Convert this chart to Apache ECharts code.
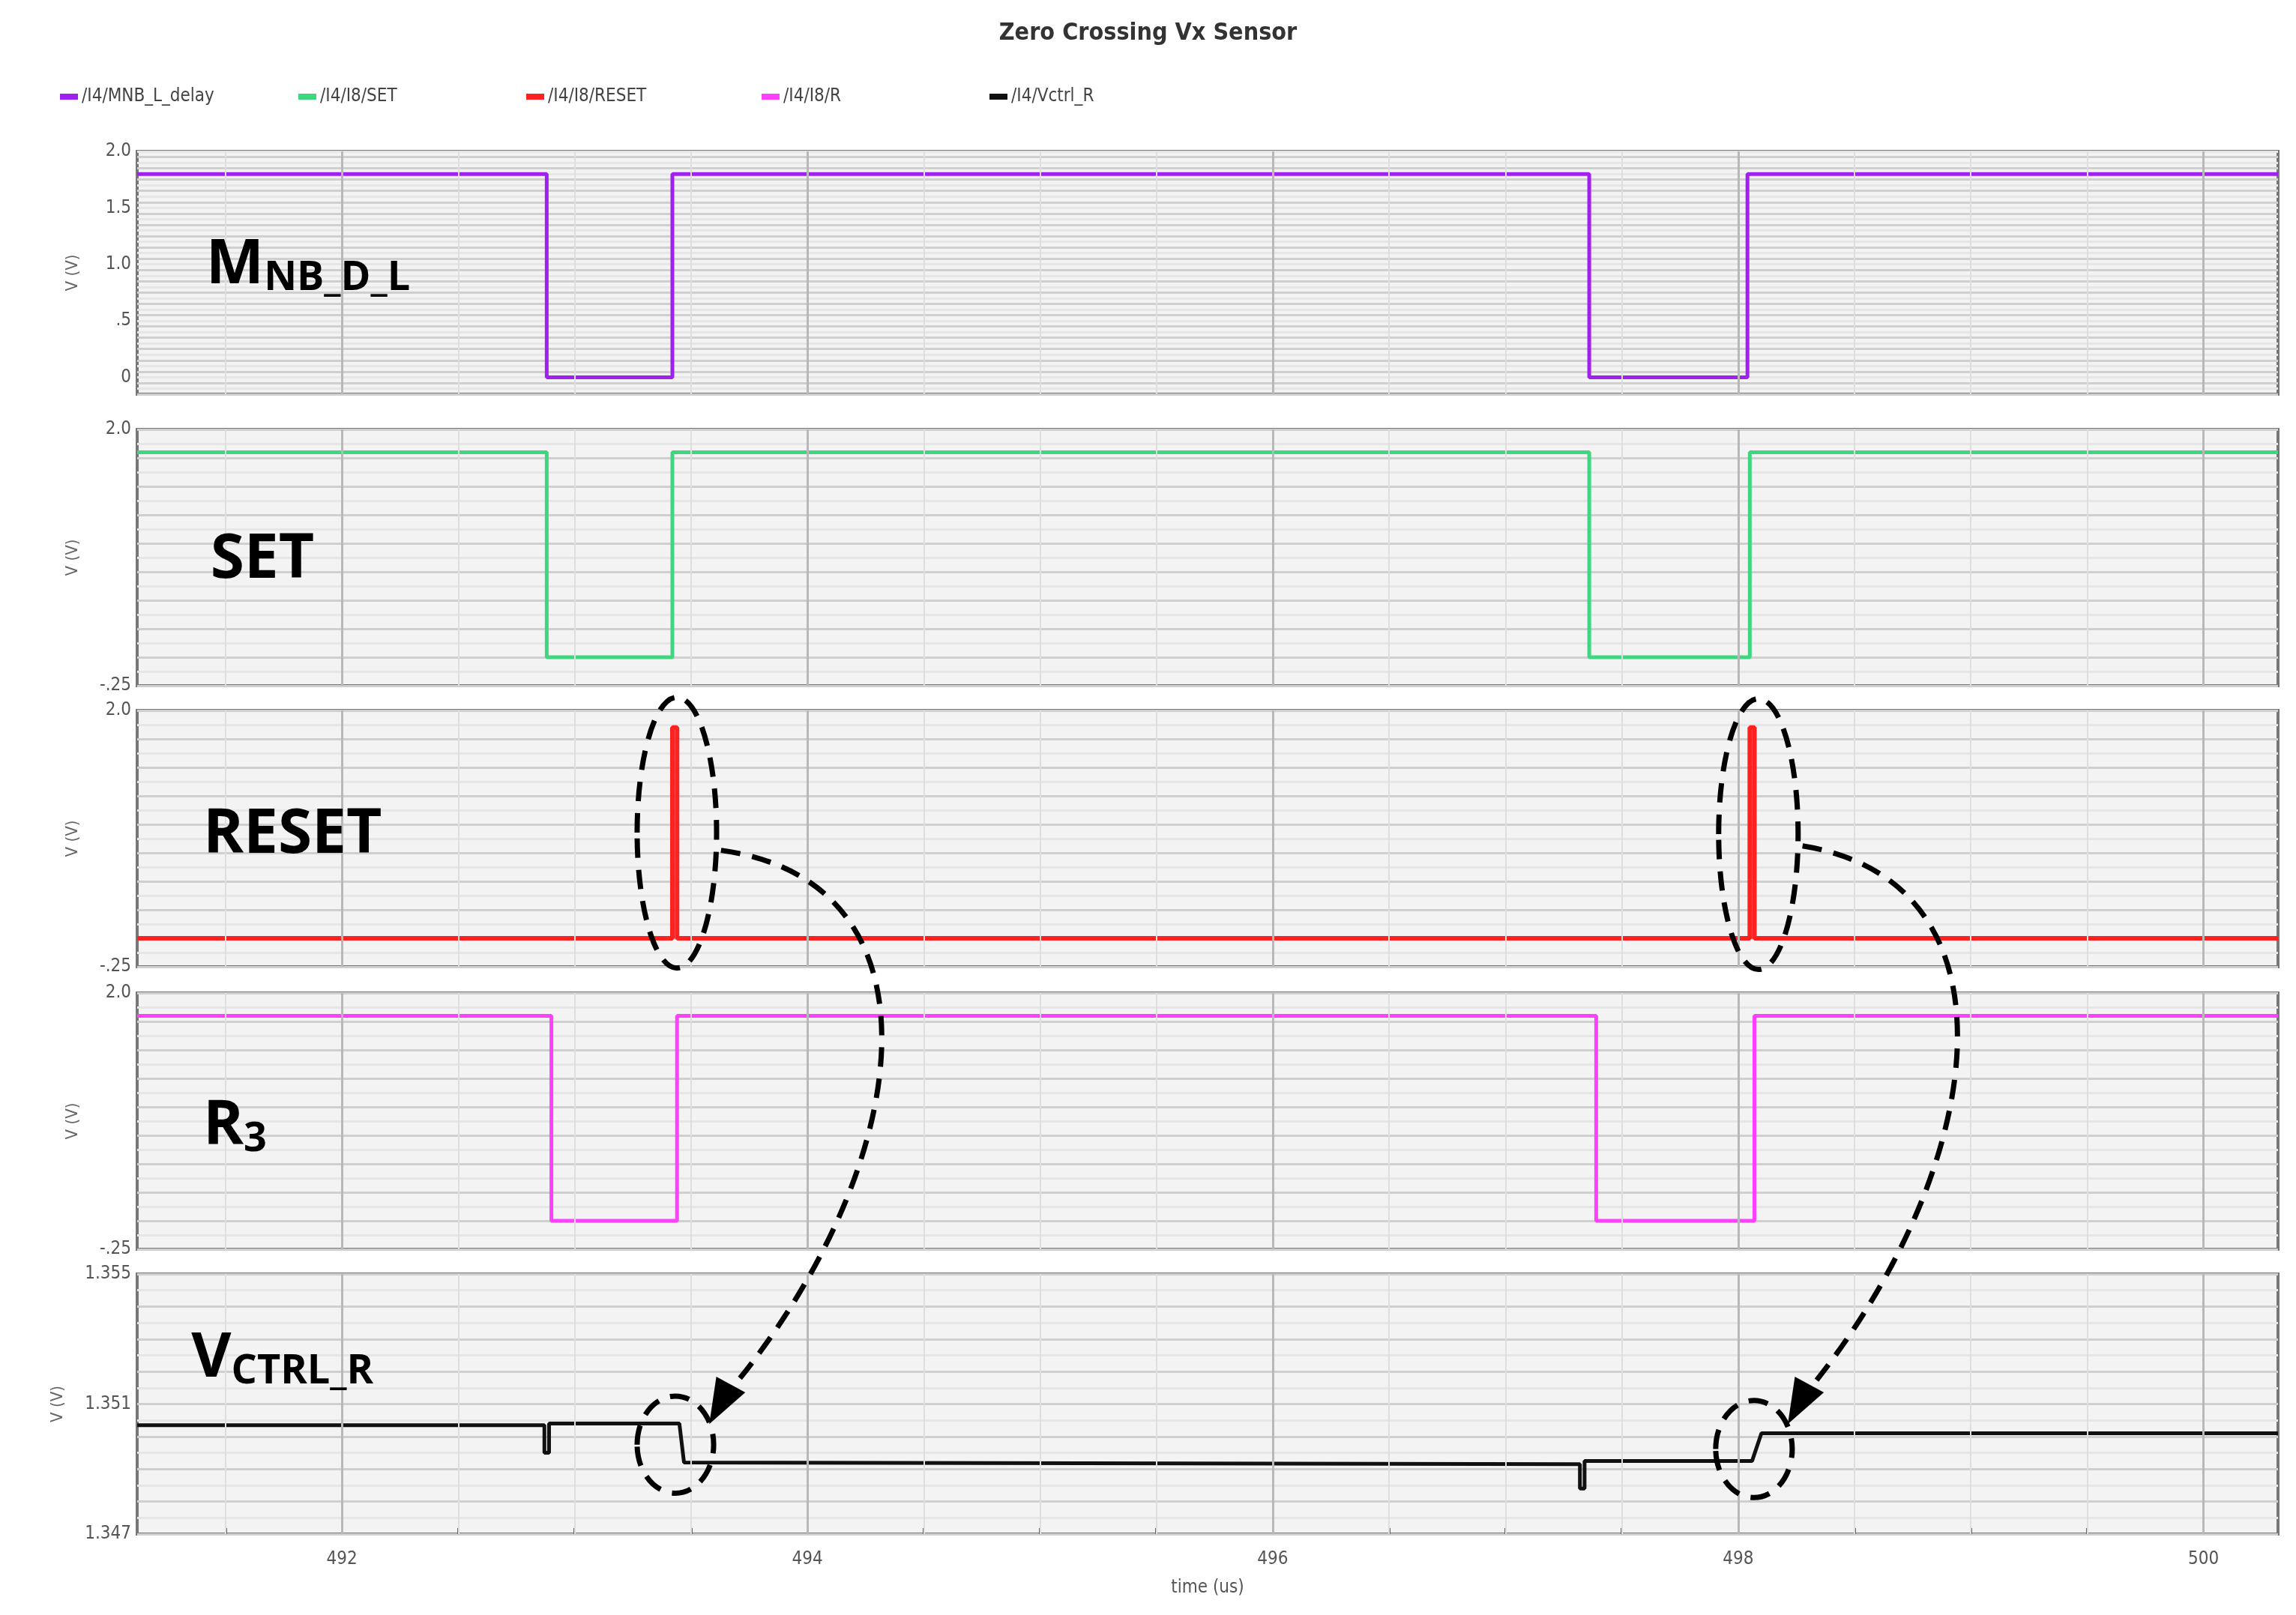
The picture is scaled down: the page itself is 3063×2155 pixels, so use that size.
<!DOCTYPE html>
<html><head><meta charset="utf-8">
<script src="https://cdn.jsdelivr.net/npm/echarts@6/dist/echarts.min.js"></script>
<style>html,body{margin:0;padding:0;background:#fff}#c{width:3063px;height:2155px}</style>
</head><body><div id="c"></div>
<script>
// ---- data ----
const mnbT = [491.12, 492.88, 492.88, 493.42, 493.42, 497.36, 497.36, 498.04, 498.04, 500.32];
const mnbV = [1.8, 1.8, 0, 0, 1.8, 1.8, 0, 0, 1.8, 1.8];
const setT = [491.12, 492.88, 492.88, 493.42, 493.42, 497.36, 497.36, 498.05, 498.05, 500.32];
const setV = [1.8, 1.8, 0, 0, 1.8, 1.8, 0, 0, 1.8, 1.8];
const resetT = [491.12, 493.42, 493.42, 493.44, 493.44, 498.05, 498.05, 498.07, 498.07, 500.32];
const resetV = [0, 0, 1.85, 1.85, 0, 0, 1.85, 1.85, 0, 0];
const rT = [491.12, 492.90, 492.90, 493.44, 493.44, 497.39, 497.39, 498.07, 498.07, 500.32];
const rV = [1.8, 1.8, 0, 0, 1.8, 1.8, 0, 0, 1.8, 1.8];
const vT = [491.12, 492.87, 492.87, 492.89, 492.89, 493.45, 493.47, 497.32, 497.32, 497.34, 497.34, 498.06, 498.10, 500.32];
const vV = [1.35035, 1.35035, 1.34950, 1.34950, 1.35040, 1.35040, 1.34920, 1.34915, 1.34840, 1.34840, 1.34925, 1.34925, 1.35010, 1.35010];
const xTickLabels = [492, 494, 496, 498, 500];
const seriesNames = ['/I4/MNB_L_delay', '/I4/I8/SET', '/I4/I8/RESET', '/I4/I8/R', '/I4/Vctrl_R'];
const colors = ['#a020f0', '#3ed67f', '#ff2020', '#ff40ff', '#111111'];
const panelLabels = ['{b|M}{s|NB_D_L}', '{b|SET}', '{b|RESET}', '{b|R}{s|3}', '{b|V}{s|CTRL_R}'];

const zip = (a, b) => a.map((t, i) => [t, b[i]]);
const sets = [zip(mnbT, mnbV), zip(setT, setV), zip(resetT, resetV), zip(rT, rV), zip(vT, vV)];

const grids = [[202, 324], [573, 342], [948, 342], [1325, 342], [1700, 347]];
const fontF = '"Liberation Sans Narrow", "DejaVu Sans Condensed", sans-serif';

const grid = grids.map(g => ({left: 183, right: 24, top: g[0], height: g[1], show: true,
  backgroundColor: '#f3f3f3', borderColor: '#777', borderWidth: 4}));

const minorX = []; for (let v = 491.5; v <= 500.3; v += 0.5) minorX.push(+v.toFixed(2));
const xAxis = grids.map((g, i) => ({
  type: 'value', gridIndex: i, min: 491.12, max: 500.32,
  axisLine: {show: false},
  axisTick: {show: i === 4, customValues: minorX, length: 8, inside: true, lineStyle: {color: '#666', width: 3}},
  axisLabel: {show: i === 4, customValues: xTickLabels, color: '#555', fontSize: 24, fontFamily: fontF, margin: 22},
  splitLine: {show: false},
  name: i === 4 ? 'time (us)' : '', nameLocation: 'middle', nameGap: 60,
  nameTextStyle: {color: '#555', fontSize: 24, fontFamily: fontF}
}));

const yCfg = [
  {min: -0.15, max: 2.0, interval: 0.05, labels: [0, 0.5, 1.0, 1.5, 2.0], fmt: v => ({0: '0', 0.5: '.5', 1: '1.0', 1.5: '1.5', 2: '2.0'})[v]},
  {min: -0.25, max: 2.0, interval: 0.125, labels: [-0.25, 2.0], fmt: v => v < 0 ? '-.25' : '2.0'},
  {min: -0.25, max: 2.0, interval: 0.125, labels: [-0.25, 2.0], fmt: v => v < 0 ? '-.25' : '2.0'},
  {min: -0.25, max: 2.0, interval: 0.125, labels: [-0.25, 2.0], fmt: v => v < 0 ? '-.25' : '2.0'},
  {min: 1.347, max: 1.355, interval: 0.0005, labels: [1.347, 1.351, 1.355], fmt: v => v.toFixed(3)}
];
const yAxis = yCfg.map((c, i) => ({
  type: 'value', gridIndex: i, min: c.min, max: c.max, interval: c.interval,
  axisLine: {show: false}, axisTick: {show: false},
  axisLabel: {customValues: c.labels, formatter: c.fmt, color: '#555', fontSize: 24, fontFamily: fontF, margin: 8},
  splitLine: {show: true, lineStyle: {color: ['#cfcfcf', '#e6e6e6'], width: 3}},
  name: 'V (V)', nameLocation: 'middle', nameGap: i === 4 ? 95 : 75, nameRotate: 90,
  nameTextStyle: {color: '#666', fontSize: 22, fontFamily: fontF}
}));

const series = sets.map((d, i) => ({
  name: seriesNames[i], type: 'line', xAxisIndex: i, yAxisIndex: i, data: d,
  showSymbol: false, symbol: 'none', lineStyle: {color: colors[i], width: i === 2 ? 6 : 5},
  itemStyle: {color: colors[i]}, animation: false,
  markLine: {silent: true, symbol: 'none', label: {show: false}, animation: false,
    data: minorX.map(v => ({xAxis: v, lineStyle: {color: (v % 2 === 0) ? '#b8b8b8' : '#dedede', width: (v % 2 === 0) ? 3 : 2, type: 'solid'}}))}
}));

const S = 1.963;
const dash = {stroke: '#000', lineWidth: 7, lineDash: [26, 16], fill: 'none'};
const ell = (cx, cy, rx, ry) => ({type: 'ellipse', shape: {cx: cx * S, cy: cy * S, rx: rx * S, ry: ry * S}, style: dash, z: 100});
const curve = (p) => ({type: 'bezierCurve', shape: {x1: p[0] * S, y1: p[1] * S, cpx1: p[2] * S, cpy1: p[3] * S, cpx2: p[4] * S, cpy2: p[5] * S, x2: p[6] * S, y2: p[7] * S}, style: dash, z: 100});
const head = (x, y, ang) => ({type: 'polygon', x: x * S, y: y * S, rotation: ang,
  shape: {points: [[0, 0], [-22, -60], [22, -60]]}, style: {fill: '#000'}, z: 101});

const labelPos = [[140, 160], [143, 360], [138, 547], [138, 745], [130, 903]];
const graphic = [
  ...panelLabels.map((t, i) => ({type: 'text', left: labelPos[i][0] * S, top: labelPos[i][1] * S, z: 90,
    style: {text: t, rich: {b: {fontSize: 82, fontWeight: 'bold', fontFamily: '"Open Sans", sans-serif', fill: '#000'},
      s: {fontSize: 54, fontWeight: 'bold', fontFamily: '"Open Sans", sans-serif', fill: '#000', padding: [34, 0, 0, 0]}}}})),
  ell(460, 566, 27, 92), ell(1195, 567, 27, 92), ell(459, 982, 26, 33), ell(1192, 985, 26, 33),
  curve([490, 578, 650, 600, 620, 800, 492, 950]), curve([1225, 575, 1380, 600, 1350, 800, 1225, 950]),
  head(482, 968, -0.5), head(1215, 968, -0.5)
];

const legendLeft = [75, 393, 697, 1011, 1315];
const legend = seriesNames.map((n, i) => ({data: [n], top: 112, left: legendLeft[i], itemWidth: 24, itemHeight: 8, icon: 'rect',
  textStyle: {fontSize: 24, color: '#444', fontFamily: fontF}}));

const chart = echarts.init(document.getElementById('c'));
chart.setOption({
  animation: false, backgroundColor: '#fff',
  title: {text: 'Zero Crossing Vx Sensor', left: 'center', top: 24,
    textStyle: {fontSize: 32, fontWeight: 'bold', color: '#333', fontFamily: fontF}},
  legend, grid, xAxis, yAxis, series, graphic
});
</script></body></html>
